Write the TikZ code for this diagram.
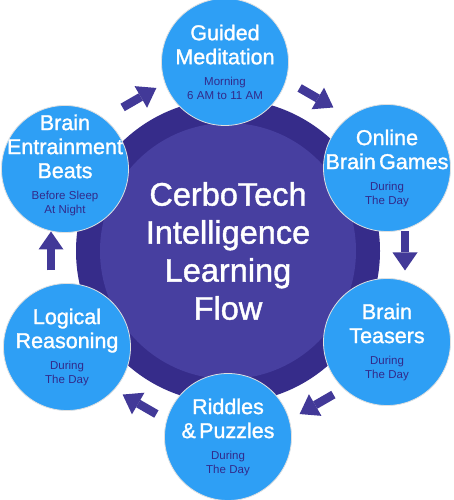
\documentclass[tikz,border=0pt]{standalone}
\usepackage{fontspec}
\setmainfont{Liberation Sans}
\newfontfamily\headfont[FakeBold=1.3]{Liberation Sans}
\usepackage{xcolor}
\usetikzlibrary{arrows.meta,positioning,calc}
\definecolor{ringdark}{RGB}{54,44,138}
\definecolor{ringfill}{RGB}{71,63,160}
\definecolor{stagefill}{RGB}{46,159,245}
\definecolor{subtext}{RGB}{50,42,138}
\definecolor{flowcol}{RGB}{66,57,152}
\newcommand{\stagetext}[2]{%
  {\headfont\fontsize{21.5}{24}\selectfont #1\par}\vskip7pt
  {\fontsize{11.5}{14}\selectfont\color{subtext}#2\par}}
\tikzset{
  hubring/.style={circle, fill=ringdark, minimum size=304pt, inner sep=0pt},
  hubcore/.style={circle, fill=ringfill, minimum size=256pt, inner sep=0pt},
  hubtext/.style={text=white, align=center, inner sep=0pt,
    font=\headfont\fontsize{32.5}{38}\selectfont},
  stage/.style={circle, fill=stagefill, draw=black!12, line width=0.8pt,
    minimum size=127pt, inner sep=0pt},
  stagelabel/.style={text=white, text width=140pt, align=center, inner sep=0pt},
  flowarrow/.style={draw=flowcol, line width=8.5pt,
    -{Triangle[length=18pt,width=25pt,line width=0pt]}}
}
\begin{document}
\begin{tikzpicture}[x=1pt,y=1pt]
\fill[white] (0,0) rectangle (454,500);
\useasboundingbox (0,0) rectangle (454,500);

% ---- hub (everything sits round it) ----
\node[hubring] (hub) at (228,249) {};
\node[hubcore] (hubcore) at (hub) {};
\node[hubtext] (hubtxt) at (hub) {CerboTech\\Intelligence\\Learning\\Flow};

% ---- stages ----
\node[stage] (meditation) at (225,438) {};
\node[stagelabel] (meditation-txt) at (meditation) {\stagetext{Guided\\Meditation}{Morning\\6 AM to 11 AM}};

\node[stage] (games) at (387,332) {};
\node[stagelabel] (games-txt) at (games) {\stagetext{Online\\Brain Games}{During\\The Day}};

\node[stage] (teasers) at (387,158) {};
\node[stagelabel] (teasers-txt) at (teasers) {\stagetext{Brain\\Teasers}{During\\The Day}};

\node[stage] (riddles) at (228,63) {};
\node[stagelabel] (riddles-txt) at (riddles) {\stagetext{Riddles\\\& Puzzles}{During\\The Day}};

\node[stage] (logic) at (67,153) {};
\node[stagelabel] (logic-txt) at (logic) {\stagetext{Logical\\Reasoning}{During\\The Day}};

\node[stage] (entrain) at (65,331) {};
\node[stagelabel] (entrain-txt) at ([yshift=4pt]entrain) {\stagetext{Brain\\Entrainment\\Beats}{Before Sleep\\At Night}};

% ---- flow arrows (clockwise, between stages) ----
\foreach \a in {120,60,0,-60,-120,180}
  \draw[flowarrow] ($(hub)+(\a:177)+(\a+90:19.5)$) -- ($(hub)+(\a:177)+(\a-90:19.5)$);

\end{tikzpicture}
\end{document}
